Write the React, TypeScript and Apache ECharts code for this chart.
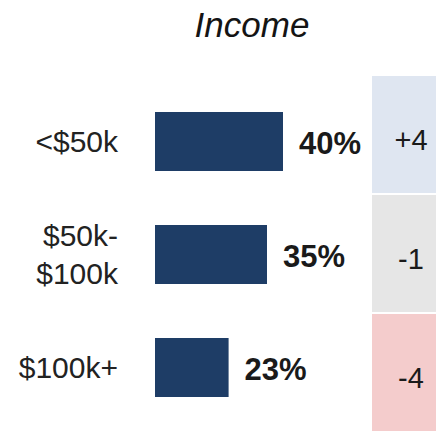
import React, { useEffect, useRef } from "react";
import * as echarts from "echarts";

const categories = ["<$50k", "$50k-\n$100k", "$100k+"];
const shares = [40, 35, 23];
const changes = [4, -1, -4];
const changeLabels = ["+4", "-1", "-4"];
const changeColors = ["#dfe6f1", "#e6e6e6", "#f4cccc"];
const titleText = "Income";

const FONT = "'Liberation Sans', Arial, sans-serif";

export default function App() {
  const ref = useRef<HTMLDivElement>(null);
  useEffect(() => {
    if (!ref.current) return;
    const chart = echarts.init(ref.current, undefined, { renderer: "svg" });
    chart.setOption({
      animation: false,
      backgroundColor: "#ffffff",
      title: {
        text: titleText,
        left: 247,
        top: 2,
        textAlign: "center",
        textStyle: {
          fontFamily: FONT,
          fontStyle: "italic",
          fontWeight: "normal",
          fontSize: 35,
          color: "#141414",
        },
      },
      grid: [
        { left: 155, width: 160, top: 85, bottom: 9 },
        { left: 372, width: 78, top: 75, bottom: 1 },
      ],
      xAxis: [
        { type: "value", gridIndex: 0, min: 0, max: 50, show: false },
        { type: "value", gridIndex: 1, min: 0, max: 1, show: false },
      ],
      yAxis: [
        {
          type: "category",
          gridIndex: 0,
          data: categories,
          inverse: true,
          axisLine: { show: false },
          axisTick: { show: false },
          splitLine: { show: false },
          axisLabel: {
            margin: 37,
            fontFamily: FONT,
            fontSize: 30,
            lineHeight: 38,
            color: "#222222",
            align: "right",
          },
        },
        {
          type: "category",
          gridIndex: 1,
          data: categories,
          inverse: true,
          show: false,
        },
      ],
      series: [
        {
          type: "bar",
          xAxisIndex: 0,
          yAxisIndex: 0,
          data: shares,
          barWidth: 59,
          itemStyle: { color: "#1e3d66" },
          label: {
            show: true,
            position: "right",
            distance: 16,
            offset: [0, 2],
            formatter: (p: any) => `${p.value}%`,
            fontFamily: FONT,
            fontWeight: "bold",
            fontSize: 31,
            color: "#1a1a1a",
          },
        },
        {
          type: "bar",
          xAxisIndex: 1,
          yAxisIndex: 1,
          data: changes.map((c, i) => ({
            value: 1,
            change: c,
            itemStyle: { color: changeColors[i] },
          })),
          barWidth: 117,
          label: {
            show: true,
            position: "inside",
            offset: [7, 5],
            formatter: (p: any) => changeLabels[p.dataIndex],
            fontFamily: FONT,
            fontSize: 29,
            color: "#1a1a1a",
          },
        },
      ],
    });
    return () => chart.dispose();
  }, []);
  return (
    <div
      ref={ref}
      style={{ position: "absolute", left: 0, top: 0, width: 436, height: 433 }}
    />
  );
}
